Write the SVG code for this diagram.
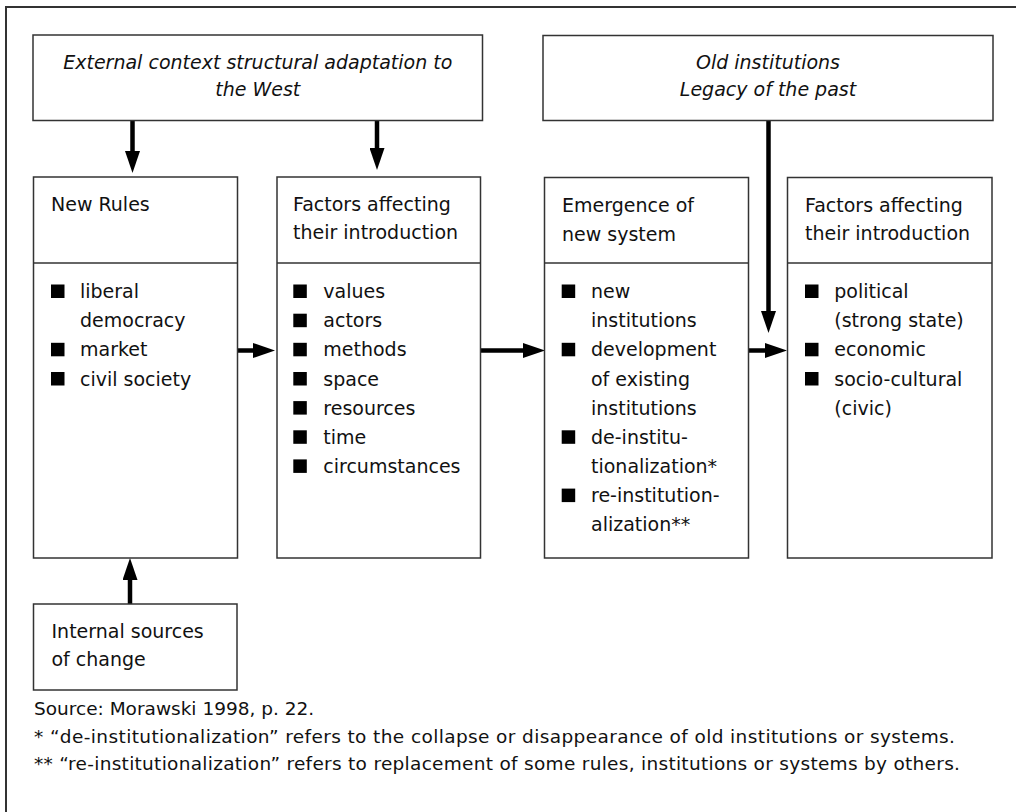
<svg xmlns="http://www.w3.org/2000/svg" width="1016" height="812" viewBox="0 0 1016 812">
<defs>
<style>
.frame{fill:#fff;stroke:#333;stroke-width:2}
.box{fill:#fff;stroke:#333;stroke-width:1.5}
.div{stroke:#333;stroke-width:1.5}
.t{font-family:"DejaVu Sans","Liberation Sans",sans-serif;font-size:19px;fill:#111}
.ti{font-family:"DejaVu Sans","Liberation Sans",sans-serif;font-size:19px;font-style:italic;fill:#111;text-anchor:middle}
.f{font-family:"DejaVu Sans","Liberation Sans",sans-serif;font-size:18.5px;fill:#111}
.b{fill:#000}
.arr{stroke:#000;stroke-width:4.5;fill:none;marker-end:url(#ah)}
</style>
<marker id="ah" viewBox="0 0 22 15" refX="10" refY="7.5" markerWidth="22" markerHeight="15" markerUnits="userSpaceOnUse" orient="auto">
<path d="M0,0 L22,7.5 L0,15 z" fill="#000"/>
</marker>
</defs>
<rect x="0" y="0" width="1016" height="812" fill="#fff"/>
<rect class="frame" x="6" y="7" width="1030" height="830"/>

<g id="connectors">
<line class="arr" x1="132.5" y1="120" x2="132.5" y2="161"/>
<line class="arr" x1="377" y1="120" x2="377" y2="158"/>
<line class="arr" x1="768.5" y1="120" x2="768.5" y2="321"/>
<line class="arr" x1="237" y1="350.5" x2="263" y2="350.5"/>
<line class="arr" x1="480" y1="350.5" x2="533" y2="350.5"/>
<line class="arr" x1="749" y1="350.5" x2="775" y2="350.5"/>
<line class="arr" x1="130" y1="604" x2="130" y2="570"/>
</g>

<g id="external">
<rect class="box" x="33" y="35" width="449.5" height="85.5"/>
<text class="ti" x="257.8" y="69">External context structural adaptation to</text>
<text class="ti" x="257.8" y="96">the West</text>
</g>

<g id="old">
<rect class="box" x="543" y="35.5" width="450" height="85"/>
<text class="ti" x="768" y="69">Old institutions</text>
<text class="ti" x="768" y="96">Legacy of the past</text>
</g>

<g id="newrules">
<rect class="box" x="33.5" y="177" width="204" height="381"/>
<line class="div" x1="33.5" y1="263" x2="237.5" y2="263"/>
<text class="t" x="51" y="211">New Rules</text>
<rect class="b" x="51" y="284.5" width="13.5" height="13.5"/>
<text class="t" x="80" y="298">liberal</text>
<text class="t" x="80" y="327.2">democracy</text>
<rect class="b" x="51" y="342.8" width="13.5" height="13.5"/>
<text class="t" x="80" y="356.3">market</text>
<rect class="b" x="51" y="372" width="13.5" height="13.5"/>
<text class="t" x="80" y="385.5">civil society</text>
</g>

<g id="factors1">
<rect class="box" x="277" y="177" width="203.5" height="381"/>
<line class="div" x1="277" y1="263" x2="480.5" y2="263"/>
<text class="t" x="293" y="211">Factors affecting</text>
<text class="t" x="293" y="239.3">their introduction</text>
<rect class="b" x="293.3" y="284.5" width="13.5" height="13.5"/>
<text class="t" x="323.3" y="298">values</text>
<rect class="b" x="293.3" y="313.7" width="13.5" height="13.5"/>
<text class="t" x="323.3" y="327.2">actors</text>
<rect class="b" x="293.3" y="342.8" width="13.5" height="13.5"/>
<text class="t" x="323.3" y="356.3">methods</text>
<rect class="b" x="293.3" y="372" width="13.5" height="13.5"/>
<text class="t" x="323.3" y="385.5">space</text>
<rect class="b" x="293.3" y="401.1" width="13.5" height="13.5"/>
<text class="t" x="323.3" y="414.6">resources</text>
<rect class="b" x="293.3" y="430.3" width="13.5" height="13.5"/>
<text class="t" x="323.3" y="443.8">time</text>
<rect class="b" x="293.3" y="459.4" width="13.5" height="13.5"/>
<text class="t" x="323.3" y="472.9">circumstances</text>
</g>

<g id="emergence">
<rect class="box" x="544.5" y="177.5" width="204" height="380.5"/>
<line class="div" x1="544.5" y1="263" x2="748.5" y2="263"/>
<text class="t" x="562" y="211.5">Emergence of</text>
<text class="t" x="562" y="240.5">new system</text>
<rect class="b" x="561.7" y="284.5" width="13.5" height="13.5"/>
<text class="t" x="591" y="298">new</text>
<text class="t" x="591" y="327.2">institutions</text>
<rect class="b" x="561.7" y="342.8" width="13.5" height="13.5"/>
<text class="t" x="591" y="356.3">development</text>
<text class="t" x="591" y="385.5">of existing</text>
<text class="t" x="591" y="414.6">institutions</text>
<rect class="b" x="561.7" y="430.3" width="13.5" height="13.5"/>
<text class="t" x="591" y="443.8">de-institu-</text>
<text class="t" x="591" y="472.9">tionalization*</text>
<rect class="b" x="561.7" y="488.6" width="13.5" height="13.5"/>
<text class="t" x="591" y="502.1">re-institution-</text>
<text class="t" x="591" y="531.2">alization**</text>
</g>

<g id="factors2">
<rect class="box" x="787.5" y="177.5" width="204.5" height="380.5"/>
<line class="div" x1="787.5" y1="263" x2="992" y2="263"/>
<text class="t" x="805" y="211.5">Factors affecting</text>
<text class="t" x="805" y="240">their introduction</text>
<rect class="b" x="805" y="284.5" width="13.5" height="13.5"/>
<text class="t" x="834.3" y="298">political</text>
<text class="t" x="834.3" y="327.2">(strong state)</text>
<rect class="b" x="805" y="342.8" width="13.5" height="13.5"/>
<text class="t" x="834.3" y="356.3">economic</text>
<rect class="b" x="805" y="372" width="13.5" height="13.5"/>
<text class="t" x="834.3" y="385.5">socio-cultural</text>
<text class="t" x="834.3" y="414.6">(civic)</text>
</g>

<g id="internal">
<rect class="box" x="33.5" y="604" width="203.5" height="86"/>
<text class="t" x="51.5" y="638">Internal sources</text>
<text class="t" x="51.5" y="666">of change</text>
</g>

<g id="notes">
<text class="f" x="34" y="715">Source: Morawski 1998, p. 22.</text>
<text class="f" x="34" y="743" textLength="921">* “de-institutionalization” refers to the collapse or disappearance of old institutions or systems.</text>
<text class="f" x="34" y="770" textLength="926">** “re-institutionalization” refers to replacement of some rules, institutions or systems by others.</text>
</g>
</svg>
